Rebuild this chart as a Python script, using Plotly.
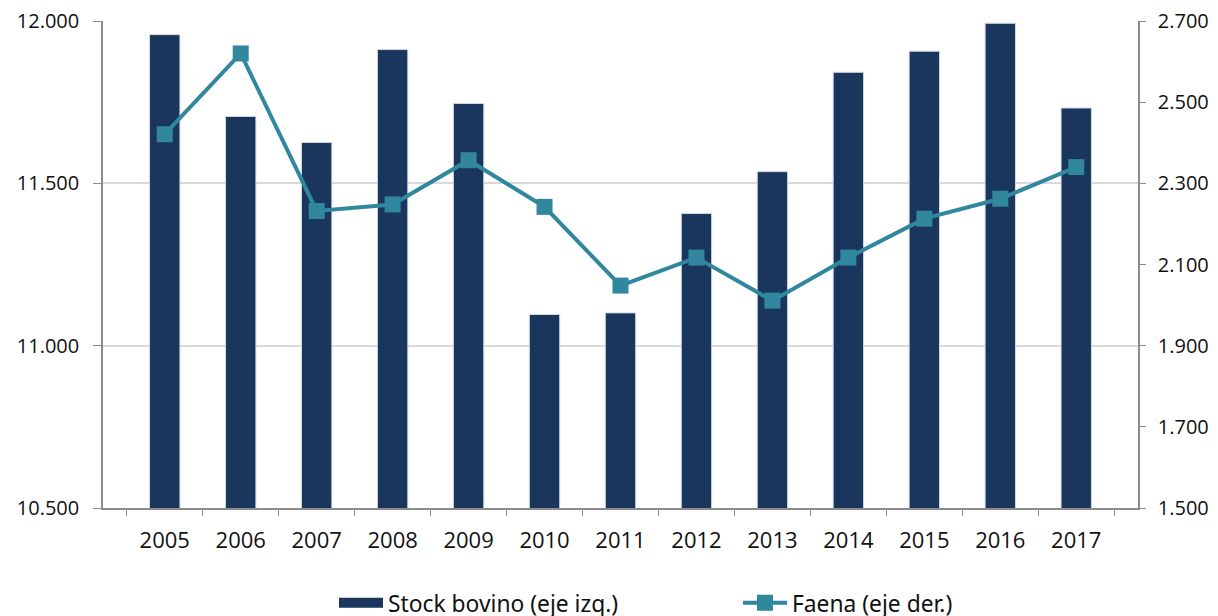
import plotly.graph_objects as go

years = ["2005", "2006", "2007", "2008", "2009", "2010", "2011", "2012", "2013", "2014", "2015", "2016", "2017"]
stock = [11958, 11706, 11626, 11912, 11746, 11096, 11101, 11407, 11536, 11842, 11907, 11993, 11732]
faena = [2421, 2620, 2232, 2248, 2357, 2242, 2048, 2117, 2011, 2117, 2213, 2262, 2340]

left_ticks = [10500, 11000, 11500, 12000]
left_labels = ["10.500", "11.000", "11.500", "12.000"]
right_ticks = [1500, 1700, 1900, 2100, 2300, 2500, 2700]
right_labels = ["1.500", "1.700", "1.900", "2.100", "2.300", "2.500", "2.700"]

BAR = "#1b365d"
LINE = "#31879e"
FONT = "Open Sans, Lato, sans-serif"
AXIS = "#8c8c8c"

fig = go.Figure()
fig.add_trace(go.Bar(
    x=years, y=stock, name="Stock bovino (eje izq.)",
    marker=dict(color=BAR, line=dict(color="#d0d8e4", width=1)),
    yaxis="y", showlegend=False,
))
# legend swatch for the bars (wide rectangle, as in the reference)
fig.add_trace(go.Scatter(
    x=[None], y=[None], name="Stock bovino (eje izq.)", mode="lines",
    line=dict(color=BAR, width=16), yaxis="y", hoverinfo="skip",
))
fig.add_trace(go.Scatter(
    x=years, y=faena, name="Faena (eje der.)", mode="lines+markers",
    line=dict(color=LINE, width=4),
    marker=dict(symbol="square", size=16, color=LINE),
    yaxis="y2",
))

fig.update_layout(
    width=1218, height=616,
    margin=dict(l=95, r=88, t=13, b=116, autoexpand=False),
    paper_bgcolor="white", plot_bgcolor="white",
    font=dict(family=FONT, size=20, color="#111111"),
    bargap=0.6,
    showlegend=True,
    legend=dict(
        orientation="h", xref="container", yref="container",
        x=326 / 1218, xanchor="left", y=1 - 595 / 616, yanchor="middle",
        font=dict(size=22.8, family="Noto Sans, sans-serif", color="#111111"),
        entrywidth=345, entrywidthmode="pixels", itemwidth=44,
        borderwidth=0, bgcolor="rgba(0,0,0,0)",
    ),
    xaxis=dict(
        type="category", showline=True, linecolor=AXIS, linewidth=1.5,
        ticks="outside", tickson="boundaries", ticklen=6, tickcolor=AXIS,
        showgrid=False, automargin=False, ticklabelstandoff=12,
        tickfont=dict(size=22), ticklabeloverflow="allow",
    ),
    yaxis=dict(
        range=[10500, 12000], tickvals=left_ticks, ticktext=left_labels,
        showline=True, linecolor=AXIS, linewidth=1.5,
        ticks="outside", ticklen=8, tickcolor=AXIS,
        showgrid=True, gridcolor="#d9d9d9", gridwidth=1.5,
        zeroline=False, automargin=False, ticklabelstandoff=10,
        ticklabeloverflow="allow",
    ),
    yaxis2=dict(
        range=[1500, 2700], tickvals=right_ticks, ticktext=right_labels,
        overlaying="y", side="right",
        showline=True, linecolor=AXIS, linewidth=1.5,
        ticks="outside", ticklen=6, tickcolor=AXIS,
        showgrid=False, zeroline=False, automargin=False, ticklabelstandoff=8,
        ticklabeloverflow="allow",
    ),
)

fig.write_html("out.html")
